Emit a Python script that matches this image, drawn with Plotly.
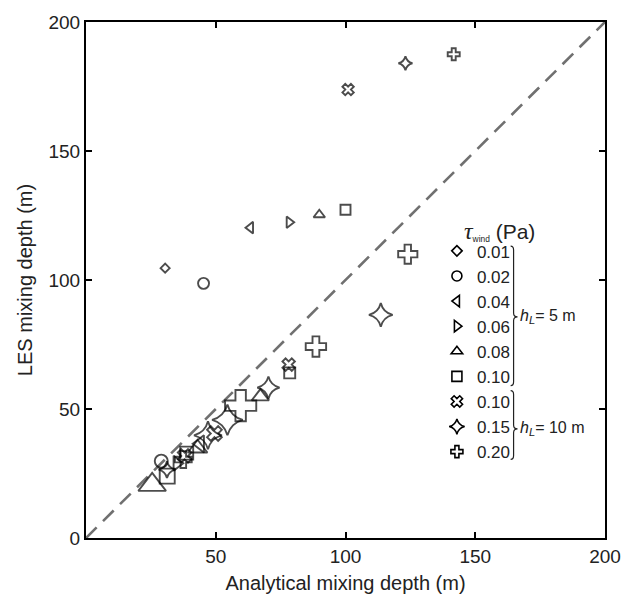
import plotly.graph_objects as go

# ---------------- data ----------------
series_names = ["0.01", "0.02", "0.04", "0.06", "0.08", "0.10", "0.10", "0.15", "0.20"]
series_symbols = ["diamond-open", "circle-open", "triangle-left-open", "triangle-right-open",
                  "triangle-up-open", "square-open", "x-open", "star-diamond-open", "cross-open"]

x_001 = [30.5]
y_001 = [104.6]
s_001 = [7]

x_002 = [45.3, 29.0]
y_002 = [98.7, 29.8]
s_002 = [11, 13]

x_004 = [63.4, 44.0]
y_004 = [120.3, 36.5]
s_004 = [10, 15]

x_006 = [78.3, 35.0]
y_006 = [122.4, 29.0]
s_006 = [10, 13]

x_008 = [89.9, 25.5, 43.0, 67.2]
y_008 = [125.3, 20.6, 34.8, 54.8]
s_008 = [10, 24, 17, 15]

x_010a = [100.0, 31.3, 38.8, 78.5]
y_010a = [127.2, 24.0, 32.9, 64.0]
s_010a = [10, 15, 13, 11]

x_010b = [101.0, 78.1, 49.5, 38.0]
y_010b = [173.8, 67.2, 40.5, 31.8]
s_010b = [10, 11, 13, 12]

x_015 = [123.1, 113.6, 70.3, 54.5, 47.0, 31.2]
y_015 = [184.0, 86.5, 58.3, 45.8, 39.8, 26.5]
s_015 = [10, 17, 16, 22, 20, 12]

x_020 = [141.7, 124.0, 88.6, 59.6, 37.5]
y_020 = [187.5, 110.0, 74.2, 51.3, 30.4]
s_020 = [10, 16, 17, 26, 14]

xs = [x_001, x_002, x_004, x_006, x_008, x_010a, x_010b, x_015, x_020]
ys = [y_001, y_002, y_004, y_006, y_008, y_010a, y_010b, y_015, y_020]
ss = [s_001, s_002, s_004, s_006, s_008, s_010a, s_010b, s_015, s_020]

legend_sizes = [8, 10, 10, 10, 10, 10, 10, 11, 10]

line_x = [0, 200]
line_y = [0, 200]

x_ticks = [50, 100, 150, 200]
y_ticks = [0, 50, 100, 150, 200]

# ---------------- figure ----------------
W, H = 633, 609
L, R, T, B = 86, 19, 13, 71
PW, PH = W - L - R, H - T - B

def px(xp):
    return (xp - L) / PW

def py(yp):
    return (H - B - yp) / PH

fig = go.Figure()
fig.add_trace(go.Scatter(x=line_x, y=line_y, mode="lines", showlegend=False,
                         line=dict(color="#707070", width=2.6, dash="15px,9px"),
                         hoverinfo="skip"))

for i, (name, sym, x, y, s, ls) in enumerate(zip(series_names, series_symbols, xs, ys, ss, legend_sizes)):
    grp = f"g{i}"
    fig.add_trace(go.Scatter(x=x, y=y, mode="markers", name=name, legendgroup=grp,
                             showlegend=False,
                             marker=dict(symbol=sym, size=s, color="black",
                                         line=dict(color="black", width=1.9))))
    # legend-only entry with small symbol
    fig.add_trace(go.Scatter(x=[None], y=[None], mode="markers", name=name, legendgroup=grp,
                             showlegend=True,
                             marker=dict(symbol=sym, size=ls, color="black",
                                         line=dict(color="black", width=1.6))))

font_main = "Liberation Sans, Arial, Helvetica, sans-serif"

axis_common = dict(range=[0, 200], showgrid=False, zeroline=False,
                   showline=True, linecolor="black", linewidth=2, mirror="ticks",
                   ticks="inside", ticklen=6, tickwidth=1.5, tickcolor="black",
                   tickfont=dict(size=19, color="#222", family=font_main))

fig.update_layout(
    width=W, height=H,
    margin=dict(l=L, r=R, t=T, b=B),
    paper_bgcolor="white", plot_bgcolor="white",
    font=dict(family=font_main, color="#222"),
    xaxis=dict(axis_common, tickvals=x_ticks,
               title=dict(text="Analytical mixing depth (m)", font=dict(size=20), standoff=10)),
    yaxis=dict(axis_common, tickvals=y_ticks,
               title=dict(text="LES mixing depth (m)", font=dict(size=20), standoff=10)),
    legend=dict(x=px(443), y=py(228), xanchor="left", yanchor="top",
                font=dict(size=17, color="#222", family=font_main),
                bgcolor="rgba(0,0,0,0)", borderwidth=0,
                tracegroupgap=0, itemclick=False),
    showlegend=True,
)

# legend title
fig.add_annotation(xref="paper", yref="paper", x=px(469), y=py(226),
                   xanchor="left", yanchor="middle", showarrow=False,
                   text="<span style='font-family:Liberation Serif;font-size:24px'><i>τ</i></span>"
                        "<span style='font-size:12px'><sub>wind</sub></span> (Pa)",
                   font=dict(size=21, color="#222", family=font_main))

# braces
def brace(xb, ytop, ybot, ymid):
    h = 4
    d = (f"M {px(xb-3)},{py(ytop)} Q {px(xb)},{py(ytop)} {px(xb)},{py(ytop+h)} "
         f"L {px(xb)},{py(ymid-h)} Q {px(xb)},{py(ymid)} {px(xb+4)},{py(ymid)} "
         f"Q {px(xb)},{py(ymid)} {px(xb)},{py(ymid+h)} "
         f"L {px(xb)},{py(ybot-h)} Q {px(xb)},{py(ybot)} {px(xb-3)},{py(ybot)}")
    fig.add_shape(type="path", path=d, xref="paper", yref="paper",
                  line=dict(color="#222", width=1.2))

brace(521, 241, 383, 313)
brace(521, 388, 458, 427)

for ytxt, lab in [(313, "5 m"), (427, "10 m")]:
    fig.add_annotation(xref="paper", yref="paper", x=px(525), y=py(ytxt),
                       xanchor="left", yanchor="middle", showarrow=False,
                       text=f"<i>h<sub>L</sub></i>= {lab}",
                       font=dict(size=16, color="#222", family=font_main))

fig.write_html("out.html")
